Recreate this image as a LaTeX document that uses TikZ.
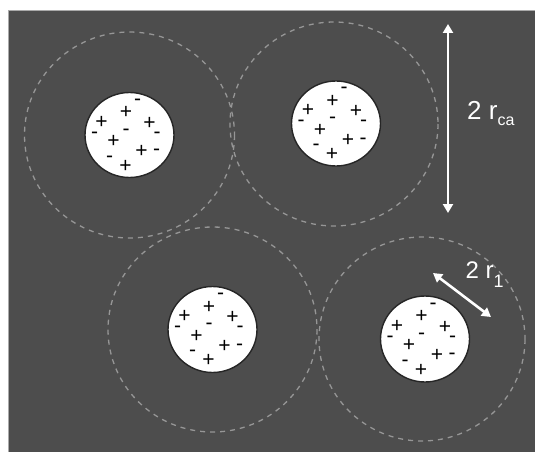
\documentclass[tikz,border=0pt]{standalone}
\usepackage{fontspec}
\setmainfont{Liberation Sans}
\usetikzlibrary{arrows.meta}
\definecolor{bgdark}{RGB}{77,77,77}
\definecolor{dashgray}{RGB}{150,150,150}
\definecolor{edgegray}{RGB}{170,170,170}
\tikzset{
  cell/.style={draw=dashgray, line width=1.3pt, dash pattern=on 5pt off 5pt},
  blob/.style={draw=black!85, line width=1.4pt, fill=white},
  chg/.style={inner sep=0pt, text=black, font=\fontsize{21}{22}\selectfont},
  dim/.style={draw=white, line width=2.6pt, {Triangle[width=10pt,length=9pt]}-{Triangle[width=10pt,length=9pt]}},
  lbl/.style={text=white, inner sep=0pt, anchor=base west}
}
\newcommand{\chargeset}[1]{%
  \foreach \dx/\dy/\s [count=\i] in {8/-33/-, -3.5/-22.5/+, -28/-13/+, 20/-12/+, -35/0/-, -3.5/-3/-, 27.5/0/-, -16/6.5/+, 12/16.5/+, 27/17.5/-, -20/24/-, -4/31/+}{
    \node[chg] (#1-c\i) at ([shift={(\dx,\dy)}]#1) {\s};
  }%
}
\begin{document}
\begin{tikzpicture}[x=1pt,y=-1pt]
\useasboundingbox (0,0) rectangle (535,452);
\fill[white] (0,0) rectangle (535,452);
\fill[bgdark] (8,10) rectangle (535,452);
\draw[edgegray, line width=1.2pt] (8.5,452) -- (8.5,10.5) -- (535,10.5);

% cells
\coordinate (A) at (129.5,135);
\coordinate (B) at (336,123.5);
\coordinate (C) at (212.5,329.5);
\coordinate (D) at (425,339);

\draw[cell] (129.5,135) ellipse [x radius=105, y radius=103];
\draw[cell] (334,124) ellipse [x radius=104, y radius=102];
\draw[cell] (212.5,329.5) ellipse [x radius=104.5, y radius=102.5];
\draw[cell] (422,339) ellipse [x radius=103, y radius=102];

\draw[blob] (A) ellipse [x radius=44.5, y radius=42.5];
\draw[blob] (B) ellipse [x radius=44.5, y radius=42.5];
\draw[blob] (C) ellipse [x radius=44.5, y radius=43];
\draw[blob] (D) ellipse [x radius=44.5, y radius=43];

\chargeset{A}
\chargeset{B}
\chargeset{C}
\chargeset{D}

% dimension arrows
\coordinate (ca1) at (448,24);
\coordinate (ca2) at (448,213);
\draw[dim] (ca1) -- (ca2);
\coordinate (r1a) at (433,273);
\coordinate (r1b) at (491,317);
\draw[dim] (r1a) -- (r1b);

\node[lbl] (lca) at (467,119) {\fontsize{26}{28}\selectfont 2 r\raisebox{-6pt}{\fontsize{16}{18}\selectfont ca}};
\node[lbl] (lr1) at (465.5,278) {\fontsize{24}{26}\selectfont 2 r\raisebox{-9pt}{\fontsize{18}{20}\selectfont 1}};
\end{tikzpicture}
\end{document}
